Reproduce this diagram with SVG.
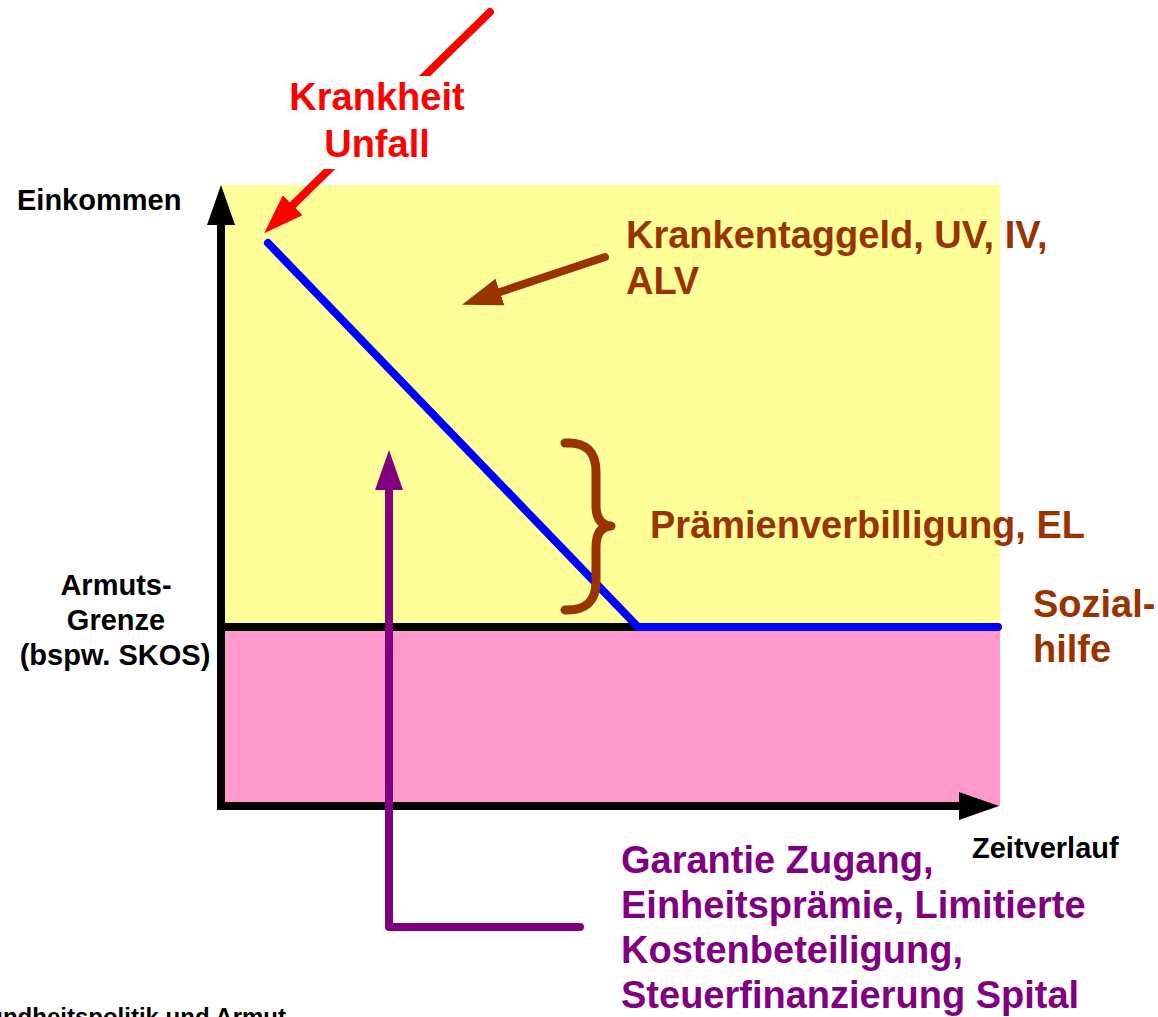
<svg xmlns="http://www.w3.org/2000/svg" width="1158" height="1017" viewBox="0 0 1158 1017">
<defs>
<style>
text{font-family:"Liberation Sans",Arial,Helvetica,sans-serif;font-weight:bold}
.ax{font-size:29px;fill:#000}
.big{font-size:38px}
.red{fill:#FF0000}
.brown{fill:#993300}
.purple{fill:#800080}
.ln{fill:none;stroke-width:8}
</style>
<marker id="mBlack" markerUnits="userSpaceOnUse" viewBox="0 -14 40 28" refX="0" refY="0" markerWidth="40" markerHeight="28" orient="auto-start-reverse"><path d="M0,-14 L40,0 L0,14 Z" fill="#000"/></marker>
<marker id="mRed" markerUnits="userSpaceOnUse" viewBox="0 -14 40 28" refX="0" refY="0" markerWidth="40" markerHeight="28" orient="auto"><path d="M0,-14 L40,0 L0,14 Z" fill="#FF0000"/></marker>
<marker id="mBrown" markerUnits="userSpaceOnUse" viewBox="0 -14 40 28" refX="0" refY="0" markerWidth="40" markerHeight="28" orient="auto"><path d="M0,-14 L40,0 L0,14 Z" fill="#993300"/></marker>
<marker id="mPurple" markerUnits="userSpaceOnUse" viewBox="0 -14 40 28" refX="0" refY="0" markerWidth="40" markerHeight="28" orient="auto-start-reverse"><path d="M0,-14 L40,0 L0,14 Z" fill="#800080"/></marker>
</defs>
<rect width="1158" height="1017" fill="#FFFFFF"/>
<g id="areas">
<rect x="221" y="185" width="779" height="442" fill="#FFFF99"/>
<rect x="221" y="627" width="779" height="179" fill="#FF99CC"/>
</g>
<g id="connectors">
<line id="red-arrow" x1="490" y1="12" x2="292.7" y2="205.2" class="ln" stroke="#FF0000" stroke-linecap="round" marker-end="url(#mRed)"/>
<line id="brown-arrow" x1="605" y1="257" x2="500" y2="292" class="ln" stroke="#993300" stroke-width="7" stroke-linecap="round" marker-end="url(#mBrown)"/>
<line id="poverty-line" x1="221" y1="627" x2="640" y2="627" class="ln" stroke="#000"/>
<path id="income-curve" d="M268,243 L638,627 L998,627" class="ln" stroke="#0000FF" stroke-width="7.5" stroke-linecap="round"/>
<path id="axes" d="M221,225 L221,806 L959,806" class="ln" stroke="#000" marker-start="url(#mBlack)" marker-end="url(#mBlack)"/>
<path id="purple-arrow" d="M389,490 L389,927 L580,927" class="ln" stroke="#800080" stroke-linecap="round" stroke-linejoin="round" marker-start="url(#mPurple)"/>
<path id="brace" d="M565,443 Q596,441 596,472 L596,505 Q596,525 611,526 Q596,527 596,547 L596,582 Q596,611 565,610" fill="none" stroke="#993300" stroke-width="9" stroke-linecap="round" stroke-linejoin="round"/>
</g>
<g id="krankheit">
<rect x="280" y="76" width="195" height="93" fill="#FFFFFF"/>
<text class="big red" x="377" y="110" text-anchor="middle">Krankheit</text>
<text class="big red" x="377" y="157" text-anchor="middle">Unfall</text>
</g>
<g id="einkommen"><text class="ax" x="17" y="210">Einkommen</text></g>
<g id="armutsgrenze">
<text class="ax" x="116" y="595" text-anchor="middle">Armuts-</text>
<text class="ax" x="116" y="630" text-anchor="middle">Grenze</text>
<text class="ax" x="115" y="665" text-anchor="middle">(bspw. SKOS)</text>
</g>
<g id="zeitverlauf"><text class="ax" x="972" y="858">Zeitverlauf</text></g>
<g id="krankentaggeld">
<text class="big brown" x="626" y="248">Krankentaggeld, UV, IV,</text>
<text class="big brown" x="626" y="294">ALV</text>
</g>
<g id="praemien"><text class="big brown" x="650" y="538">Prämienverbilligung, EL</text></g>
<g id="sozialhilfe">
<text class="big brown" x="1033" y="617">Sozial-</text>
<text class="big brown" x="1033" y="662">hilfe</text>
</g>
<g id="garantie">
<text class="big purple" x="621" y="873">Garantie Zugang,</text>
<text class="big purple" x="621" y="918">Einheitsprämie, Limitierte</text>
<text class="big purple" x="621" y="963">Kostenbeteiligung,</text>
<text class="big purple" x="621" y="1008">Steuerfinanzierung Spital</text>
</g>
<g id="footer"><text x="286" y="1025" text-anchor="end" font-size="24" fill="#000">Gesundheitspolitik und Armut</text></g>
</svg>
